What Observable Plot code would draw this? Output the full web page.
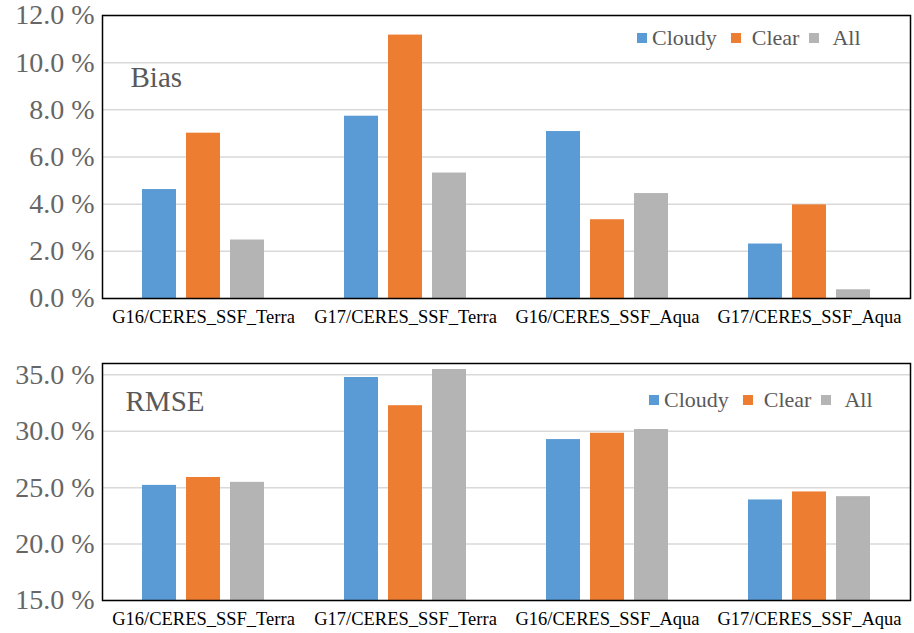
<!DOCTYPE html>
<html>
<head>
<meta charset="utf-8">
<script src="https://cdn.jsdelivr.net/npm/d3@7"></script>
<script src="https://cdn.jsdelivr.net/npm/@observablehq/plot@0.6"></script>
<style>
  html, body { margin: 0; padding: 0; background: #fff; }
  #chart { width: 914px; position: relative; }
  .panel { position: relative; width: 914px; }
  .panel svg { display: block; font-family: "Liberation Serif", "Times New Roman", serif; }
  .panel svg text { font-family: "Liberation Serif", "Times New Roman", serif; }
  .legend {
    position: absolute; display: flex; align-items: center;
    font-family: "Liberation Serif", "Times New Roman", serif;
    font-size: 22px; line-height: 22px; color: #595959; white-space: nowrap;
  }
  .legend .sw { display: inline-block; width: 10px; height: 10px; }
</style>
</head>
<body>
<div id="chart"></div>
<script>
// Satellite products compared against CERES SSF (Terra / Aqua)
const categories = ["G16/CERES_SSF_Terra", "G17/CERES_SSF_Terra", "G16/CERES_SSF_Aqua", "G17/CERES_SSF_Aqua"];
const series = ["Cloudy", "Clear", "All"];
const colors = ["#5b9bd5", "#ed7d31", "#b4b4b4"];

// Relative bias (%)
const biasCloudy = [4.62, 7.73, 7.08, 2.31];
const biasClear  = [7.01, 11.17, 3.34, 3.97];
const biasAll    = [2.48, 5.32, 4.45, 0.37];
const biasTicks  = [0, 2, 4, 6, 8, 10, 12];

// Relative RMSE (%)
const rmseCloudy = [25.2, 34.76, 29.26, 23.91];
const rmseClear  = [25.9, 32.26, 29.82, 24.62];
const rmseAll    = [25.47, 35.47, 30.15, 24.2];
const rmseTicks  = [15, 20, 25, 30, 35];

const serif = "Liberation Serif, Times New Roman, serif";

function panel({title, values, domain, ticks, height, marginTop, marginBottom, titleDx, titleDy, legendLeft, legendTop}) {
  const rows = categories.flatMap((c, i) =>
    series.map((s, j) => ({category: c, series: s, value: values[j][i]})));

  const svg = Plot.plot({
    width: 914,
    height,
    marginTop,
    marginBottom,
    marginLeft: 101,
    marginRight: 3,
    style: {background: "white", overflow: "visible"},
    fx: {domain: categories, padding: 0, label: null, axis: null},
    x: {domain: series, paddingInner: 0.22, paddingOuter: 0.86, axis: null},
    y: {domain, label: null, axis: null},
    color: {domain: series, range: colors},
    marks: [
      Plot.gridY(ticks, {stroke: "#d9d9d9", strokeOpacity: 1, strokeWidth: 1.5}),
      Plot.barY(rows, {fx: "category", x: "series", y1: () => domain[0], y2: "value", fill: "series"}),
      Plot.axisY(ticks, {
        tickSize: 0, tickPadding: 8, fontSize: 28, fontFamily: serif, fill: "#666", label: null,
        tickFormat: d => d.toFixed(1) + " %"
      }),
      Plot.axisFx({anchor: "bottom", tickSize: 0, tickPadding: 11, fontSize: 18.5, fontFamily: serif, fill: "black", label: null}),
      Plot.frame({facet: "super", stroke: "black", strokeWidth: 1.5}),
      Plot.text([title], {
        facet: "super", frameAnchor: "top-left", dx: titleDx, dy: titleDy,
        textAnchor: "start", lineAnchor: "middle", fontSize: 29, fontFamily: serif, fill: "#595959"
      })
    ]
  });

  const wrap = document.createElement("div");
  wrap.className = "panel";
  wrap.appendChild(svg);

  // series key drawn inside the plot area
  const legend = document.createElement("div");
  legend.className = "legend";
  legend.style.left = legendLeft + "px";
  legend.style.top = legendTop + "px";
  const before = [0, 14, 10];
  const after = [5, 11, 13];
  series.forEach((s, j) => {
    const sw = document.createElement("span");
    sw.className = "sw";
    sw.style.background = colors[j];
    sw.style.marginLeft = before[j] + "px";
    sw.style.marginRight = after[j] + "px";
    const label = document.createElement("span");
    label.textContent = s;
    legend.appendChild(sw);
    legend.appendChild(label);
  });
  wrap.appendChild(legend);
  return wrap;
}

const chart = document.getElementById("chart");
chart.appendChild(panel({
  title: "Bias",
  values: [biasCloudy, biasClear, biasAll],
  domain: [0, 12],
  ticks: biasTicks,
  height: 330, marginTop: 15, marginBottom: 32,
  titleDx: 28, titleDy: 62,
  legendLeft: 637, legendTop: 27
}));
chart.appendChild(panel({
  title: "RMSE",
  values: [rmseCloudy, rmseClear, rmseAll],
  domain: [15, 36],
  ticks: rmseTicks,
  height: 303, marginTop: 33, marginBottom: 33,
  titleDx: 23, titleDy: 38,
  legendLeft: 649, legendTop: 59
}));
</script>
</body>
</html>
